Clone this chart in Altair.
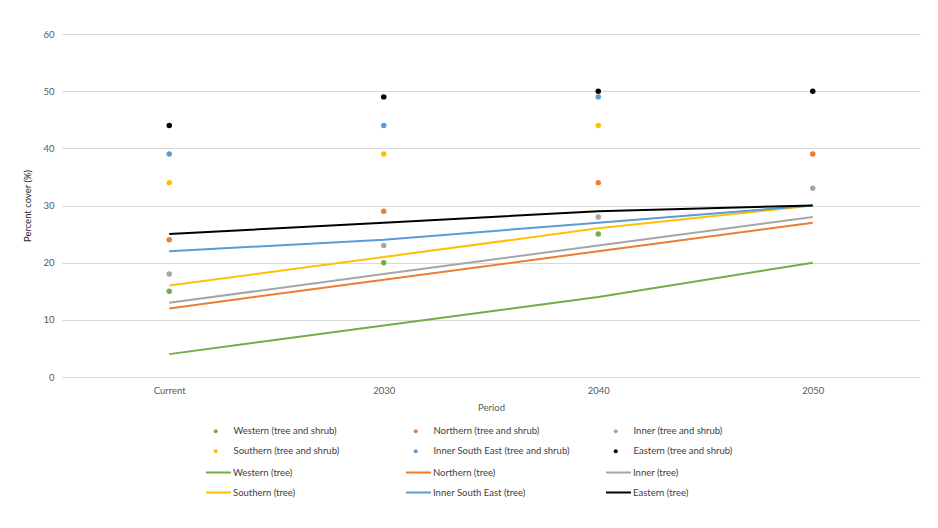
import altair as alt
import pandas as pd

periods = ["Current", "2030", "2040", "2050"]
regions = ["Western", "Northern", "Inner", "Southern", "Inner South East", "Eastern"]
colors6 = ["#70AD47", "#ED7D31", "#A5A5A5", "#FFC000", "#5B9BD5", "#000000"]

# tree and shrub (points)
ts_western = [15, 20, 25, None]
ts_northern = [24, 29, 34, 39]
ts_inner = [18, 23, 28, 33]
ts_southern = [34, 39, 44, None]
ts_ise = [39, 44, 49, None]
ts_eastern = [44, 49, 50, 50]

# tree (lines)
t_western = [4, 9, 14, 20]
t_northern = [12, 17, 22, 27]
t_inner = [13, 18, 23, 28]
t_southern = [16, 21, 26, 30]
t_ise = [22, 24, 27, 30]
t_eastern = [25, 27, 29, 30]

ts_vals = [ts_western, ts_northern, ts_inner, ts_southern, ts_ise, ts_eastern]
t_vals = [t_western, t_northern, t_inner, t_southern, t_ise, t_eastern]

pt_names = [f"{r} (tree and shrub)" for r in regions]
ln_names = [f"{r} (tree)" for r in regions]

pt_rows, ln_rows = [], []
for name, vals in zip(pt_names, ts_vals):
    for p, v in zip(periods, vals):
        if v is not None:
            pt_rows.append({"period": p, "value": v, "series": name})
for name, vals in zip(ln_names, t_vals):
    for p, v in zip(periods, vals):
        ln_rows.append({"period": p, "value": v, "series": name})
pts = pd.DataFrame(pt_rows)
lns = pd.DataFrame(ln_rows)

FONT = "Lato"
x = alt.X("period:N", sort=periods, scale=alt.Scale(type="point", padding=0.5),
          axis=alt.Axis(title="Period", labelAngle=0, ticks=False, domain=False,
                        labelPadding=8, titlePadding=8, grid=False))
y = alt.Y("value:Q", scale=alt.Scale(domain=[0, 60], nice=False),
          axis=alt.Axis(title="Percent cover (%)", values=[0, 10, 20, 30, 40, 50, 60],
                        ticks=False, domain=False, labelPadding=8, titlePadding=10))

common = dict(title=None, orient="none", columns=3, direction="horizontal",
              gridAlign="all", labelFontSize=9.5, labelColor="#404040",
              labelFont=FONT)

pt_legend = alt.Legend(legendX=149, legendY=392, symbolType="circle", symbolSize=16,
                       labelOffset=13, columnPadding=41, rowPadding=9.5, **common)
ln_legend = alt.Legend(legendX=143, legendY=425, symbolType="stroke", symbolSize=625,
                       symbolStrokeWidth=2, labelOffset=1, columnPadding=76,
                       rowPadding=2, **common)

lines = alt.Chart(lns).mark_line(strokeWidth=2).encode(
    x=x, y=y,
    color=alt.Color("series:N", scale=alt.Scale(domain=ln_names, range=colors6),
                    legend=ln_legend))
points = alt.Chart(pts).mark_point(filled=True, opacity=1, size=30).encode(
    x=x, y=y,
    color=alt.Color("series:N", scale=alt.Scale(domain=pt_names, range=colors6),
                    legend=pt_legend))

chart = alt.layer(lines, points).resolve_scale(color="independent").properties(
    width=858, height=343,
    padding={"left": 14, "top": 21, "right": 5, "bottom": 5},
).configure_view(stroke=None).configure_axis(
    labelFont=FONT, titleFont=FONT, labelFontSize=9.5, titleFontSize=9.5,
    labelColor="#595959", titleColor="#595959", gridColor="#D9D9D9",
    titleFontWeight="normal",
).configure_axisY(titleColor="#262626")

chart.save("out.html", embed_options={"renderer": "svg", "actions": False})
